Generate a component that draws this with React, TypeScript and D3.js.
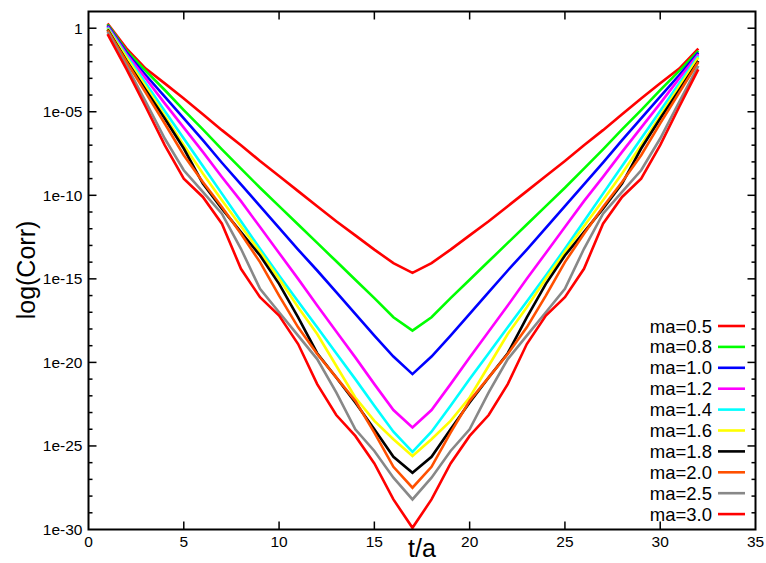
import React, { useEffect, useRef } from "react";
import { select, scaleLinear, scaleLog, line, range } from "d3";

// t/a values
const tValues = range(1, 33);

// log10(Corr), t = 1 .. 32
const corrMa05 = [0.28, -1.22, -2.42, -3.3, -4.2, -5.15, -6.1, -7.0, -7.95, -8.85, -9.75, -10.65, -11.55, -12.4, -13.25, -14.06, -14.64, -14.06, -13.25, -12.4, -11.55, -10.65, -9.75, -8.85, -7.95, -7.0, -6.1, -5.15, -4.2, -3.3, -2.42, -1.22];
const corrMa08 = [0.22, -1.36, -2.55, -3.7, -4.9, -6.05, -7.25, -8.4, -9.55, -10.65, -11.75, -12.85, -13.95, -15.05, -16.15, -17.3, -18.1, -17.3, -16.15, -15.05, -13.95, -12.85, -11.75, -10.65, -9.55, -8.4, -7.25, -6.05, -4.9, -3.7, -2.55, -1.36];
const corrMa10 = [0.16, -1.46, -2.8, -4.1, -5.4, -6.7, -8.05, -9.35, -10.65, -11.95, -13.25, -14.5, -15.8, -17.1, -18.4, -19.65, -20.7, -19.65, -18.4, -17.1, -15.8, -14.5, -13.25, -11.95, -10.65, -9.35, -8.05, -6.7, -5.4, -4.1, -2.8, -1.46];
const corrMa12 = [0.1, -1.56, -3.0, -4.5, -5.95, -7.4, -8.9, -10.35, -11.9, -13.45, -15.0, -16.6, -18.15, -19.7, -21.3, -22.85, -23.9, -22.85, -21.3, -19.7, -18.15, -16.6, -15.0, -13.45, -11.9, -10.35, -8.9, -7.4, -5.95, -4.5, -3.0, -1.56];
const corrMa14 = [0.04, -1.66, -3.3, -4.95, -6.6, -8.25, -9.9, -11.55, -13.2, -14.8, -16.35, -17.9, -19.45, -21.0, -22.6, -24.15, -25.35, -24.15, -22.6, -21.0, -19.45, -17.9, -16.35, -14.8, -13.2, -11.55, -9.9, -8.25, -6.6, -4.95, -3.3, -1.66];
const corrMa16 = [-0.02, -1.76, -3.5, -5.25, -7.0, -8.7, -10.3, -11.85, -13.4, -15.0, -16.7, -18.3, -20.2, -22.1, -23.5, -24.6, -25.6, -24.6, -23.5, -22.1, -20.2, -18.3, -16.7, -15.0, -13.4, -11.85, -10.3, -8.7, -7.0, -5.25, -3.5, -1.76];
const corrMa18 = [-0.08, -1.96, -3.7, -5.4, -7.2, -9.3, -10.8, -12.2, -13.6, -15.3, -17.3, -19.45, -20.9, -22.4, -24.0, -25.65, -26.6, -25.65, -24.0, -22.4, -20.9, -19.45, -17.3, -15.3, -13.6, -12.2, -10.8, -9.3, -7.2, -5.4, -3.7, -1.96];
const corrMa20 = [-0.12, -2.02, -3.85, -5.7, -7.6, -9.2, -10.7, -12.3, -14.0, -16.0, -17.9, -19.5, -20.9, -22.3, -24.2, -26.25, -27.5, -26.25, -24.2, -22.3, -20.9, -19.5, -17.9, -16.0, -14.0, -12.3, -10.7, -9.2, -7.6, -5.7, -3.85, -2.02];
const corrMa25 = [-0.22, -2.26, -4.4, -6.6, -8.5, -9.8, -11.1, -13.2, -15.6, -17.0, -18.4, -19.8, -21.8, -24.0, -25.3, -26.9, -28.2, -26.9, -25.3, -24.0, -21.8, -19.8, -18.4, -17.0, -15.6, -13.2, -11.1, -9.8, -8.5, -6.6, -4.4, -2.26];
const corrMa30 = [-0.36, -2.46, -4.7, -7.0, -9.0, -10.1, -11.7, -14.4, -16.1, -17.2, -18.9, -21.3, -23.15, -24.4, -26.05, -28.2, -29.9, -28.2, -26.05, -24.4, -23.15, -21.3, -18.9, -17.2, -16.1, -14.4, -11.7, -10.1, -9.0, -7.0, -4.7, -2.46];

const seriesLabels = ["ma=0.5", "ma=0.8", "ma=1.0", "ma=1.2", "ma=1.4", "ma=1.6", "ma=1.8", "ma=2.0", "ma=2.5", "ma=3.0"];
const seriesColors = ["#ff0000", "#00ff00", "#0000ff", "#ff00ff", "#00ffff", "#ffff00", "#000000", "#ff5000", "#888888", "#ff0000"];
const seriesData = [corrMa05, corrMa08, corrMa10, corrMa12, corrMa14, corrMa16, corrMa18, corrMa20, corrMa25, corrMa30];

const xTicks = [0, 5, 10, 15, 20, 25, 30, 35];
const yTickExps = [0, -5, -10, -15, -20, -25, -30];
const yTickLabels = ["1", "1e-05", "1e-10", "1e-15", "1e-20", "1e-25", "1e-30"];

const FONT = "'Liberation Sans', Arial, Helvetica, sans-serif";

export default function App() {

    const svgRef = useRef<SVGSVGElement | null>(null);

    useEffect(() => {

        const width = 766;
        const height = 563;
        const margin = { top: 11.5, right: 10.5, bottom: 33.5, left: 88.5 };

        const svg = select(svgRef.current);
        svg.selectAll("*").remove();

        const x = scaleLinear()
            .domain([0, 35])
            .range([margin.left, width - margin.right]);

        const y = scaleLog()
            .domain([1e-30, 1e1])
            .range([height - margin.bottom, margin.top]);

        const x0 = margin.left;
        const x1 = width - margin.right;
        const y0 = height - margin.bottom;
        const y1 = margin.top;

        // === data lines ===
        const lineGen = line<number>()
            .x((d, i) => x(tValues[i]))
            .y((d) => y(Math.pow(10, d)));

        seriesData.forEach((values, k) => {
            svg.append("path")
                .datum(values)
                .attr("fill", "none")
                .attr("stroke", seriesColors[k])
                .attr("stroke-width", 2.6)
                .attr("stroke-linejoin", "miter")
                .attr("d", lineGen);
        });

        // === ticks (gnuplot style: inward, mirrored) ===
        const ticks = svg.append("g").attr("stroke", "#000").attr("stroke-width", 1.5);
        const major = 8;
        const minor = 4;

        xTicks.slice(1, -1).forEach((t) => {
            ticks.append("line").attr("x1", x(t)).attr("x2", x(t)).attr("y1", y0).attr("y2", y0 - major);
            ticks.append("line").attr("x1", x(t)).attr("x2", x(t)).attr("y1", y1).attr("y2", y1 + major);
        });

        range(-29, 1).forEach((e) => {
            const len = yTickExps.includes(e) ? major : minor;
            const yy = y(Math.pow(10, e));
            ticks.append("line").attr("x1", x0).attr("x2", x0 + len).attr("y1", yy).attr("y2", yy);
            ticks.append("line").attr("x1", x1).attr("x2", x1 - len).attr("y1", yy).attr("y2", yy);
        });

        // === frame ===
        svg.append("rect")
            .attr("x", x0)
            .attr("y", y1)
            .attr("width", x1 - x0)
            .attr("height", y0 - y1)
            .attr("fill", "none")
            .attr("stroke", "#000")
            .attr("stroke-width", 2);

        // === tick labels ===
        svg.append("g")
            .selectAll("text")
            .data(xTicks)
            .enter()
            .append("text")
            .attr("x", (d) => x(d))
            .attr("y", y0 + 17)
            .attr("text-anchor", "middle")
            .attr("font-family", FONT)
            .attr("font-size", 15.5)
            .attr("fill", "#000")
            .text((d) => String(d));

        svg.append("g")
            .selectAll("text")
            .data(yTickExps)
            .enter()
            .append("text")
            .attr("x", x0 - 6)
            .attr("y", (d) => y(Math.pow(10, d)) + 5.5)
            .attr("text-anchor", "end")
            .attr("font-family", FONT)
            .attr("font-size", 15.5)
            .attr("fill", "#000")
            .text((d, i) => yTickLabels[i]);

        // === axis titles ===
        svg.append("text")
            .attr("x", (x0 + x1) / 2)
            .attr("y", height - 6)
            .attr("text-anchor", "middle")
            .attr("font-family", FONT)
            .attr("font-size", 25)
            .attr("fill", "#000")
            .text("t/a");

        svg.append("text")
            .attr("transform", "rotate(-90)")
            .attr("x", -270)
            .attr("y", 35)
            .attr("text-anchor", "middle")
            .attr("font-family", FONT)
            .attr("font-size", 25)
            .attr("fill", "#000")
            .text("log(Corr)");

        // === legend ===
        const legend = svg.append("g");
        seriesLabels.forEach((label, k) => {
            const ly = 326 + k * 20.9;
            legend.append("text")
                .attr("x", 712)
                .attr("y", ly + 6.5)
                .attr("text-anchor", "end")
                .attr("font-family", FONT)
                .attr("font-size", 18.5)
                .attr("fill", "#000")
                .text(label);
            legend.append("line")
                .attr("x1", 718)
                .attr("x2", 745)
                .attr("y1", ly)
                .attr("y2", ly)
                .attr("stroke", seriesColors[k])
                .attr("stroke-width", 2.6);
        });

    }, []);

    return (
        <svg
            ref={svgRef}
            width={766}
            height={563}
            style={{ position: "absolute", left: 0, top: 0, background: "#fff" }}
        ></svg>
    );
}
